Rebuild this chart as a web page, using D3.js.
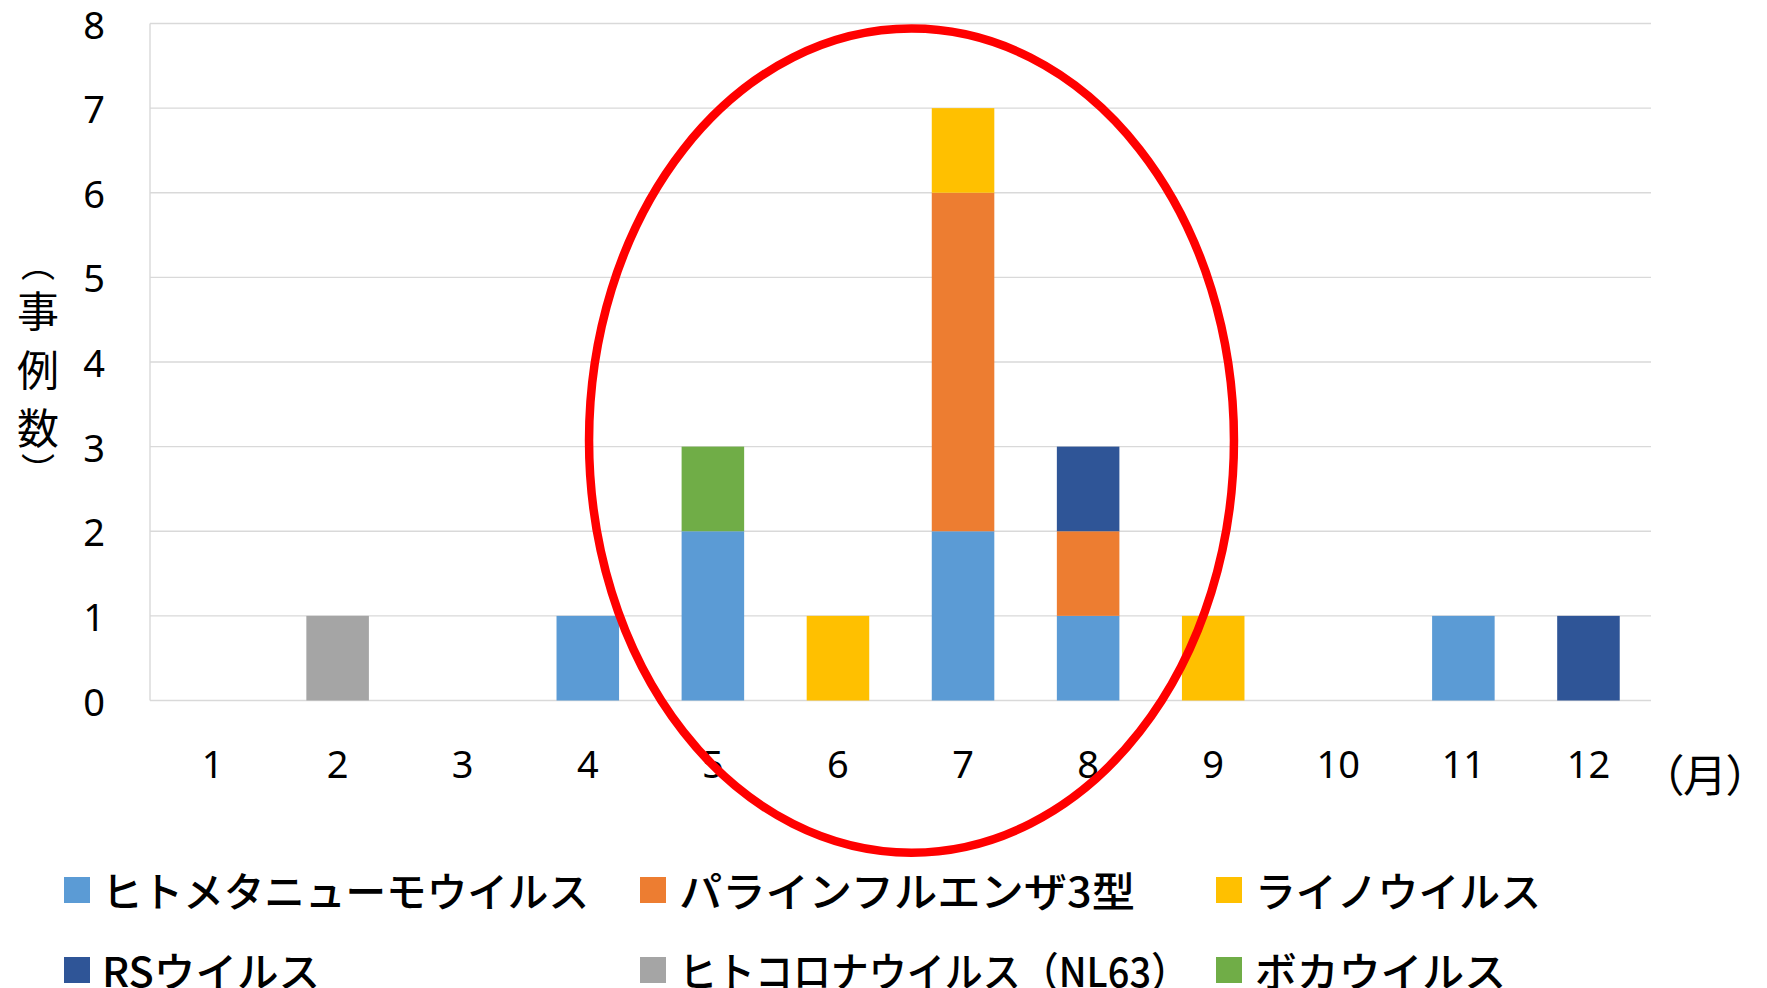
<!DOCTYPE html>
<html>
<head>
<meta charset="utf-8">
<script src="https://cdn.jsdelivr.net/npm/d3@7"></script>
<style>
  html, body { margin: 0; padding: 0; background: #fff; }
  svg { display: block; }
  .palt { font-feature-settings: "palt" 1; }
</style>
</head>
<body>
<svg id="chart" width="1767" height="988"></svg>
<script>
// ---- data ----
const months = ["1","2","3","4","5","6","7","8","9","10","11","12"];
const seriesNames = ["ヒトメタニューモウイルス", "パラインフルエンザ3型", "ライノウイルス", "RSウイルス", "ヒトコロナウイルス（NL63）", "ボカウイルス"];
const seriesColors = ["#5B9BD5", "#ED7D31", "#FFC000", "#2F5597", "#A5A5A5", "#70AD47"];
const hmpv   = [0,0,0,1,2,0,2,1,0,0,1,0];
const para3  = [0,0,0,0,0,0,4,1,0,0,0,0];
const rhino  = [0,0,0,0,0,1,1,0,1,0,0,0];
const rsv    = [0,0,0,0,0,0,0,1,0,0,0,1];
const corona = [0,1,0,0,0,0,0,0,0,0,0,0];
const boca   = [0,0,0,0,1,0,0,0,0,0,0,0];
const yTicks = [0,1,2,3,4,5,6,7,8];
const yTitle = ["︵","事","例","数","︶"];
const xUnit = "（月）";
// highlight annotation (in data units: month position, count)
const highlight = { month: 6.588, value: 3.071, rMonths: 2.578, rValue: 4.869 };

const seriesValues = [hmpv, para3, rhino, rsv, corona, boca];

// ---- layout ----
const svg = d3.select("#chart");
const plotL = 150, plotR = 1651, plotT = 23.5, plotB = 700.5;

const x = d3.scaleBand().domain(months).range([plotL, plotR]).paddingInner(0.5).paddingOuter(0.25);
const y = d3.scaleLinear().domain([0, 8]).range([plotB, plotT]);
const xPos = d3.scaleLinear().domain([1, 12]).range([x("1") + x.bandwidth()/2, x("12") + x.bandwidth()/2]);

const table = months.map((m, i) => {
  const o = { month: m };
  seriesNames.forEach((s, k) => o[s] = seriesValues[k][i]);
  return o;
});
const stack = d3.stack().keys(seriesNames)(table);

// gridlines
svg.append("g").selectAll("line").data(yTicks).join("line")
  .attr("x1", plotL).attr("x2", plotR)
  .attr("y1", d => y(d)).attr("y2", d => y(d))
  .attr("stroke", "#D9D9D9").attr("stroke-width", 1.4);
// left axis line
svg.append("line").attr("x1", plotL).attr("x2", plotL).attr("y1", y(8)).attr("y2", y(0))
  .attr("stroke", "#D9D9D9").attr("stroke-width", 1.4);

// bars
svg.append("g").selectAll("g").data(stack).join("g")
  .attr("fill", (d, i) => seriesColors[i])
  .selectAll("rect").data(d => d.filter(p => p[1] > p[0])).join("rect")
  .attr("x", d => x(d.data.month))
  .attr("width", x.bandwidth())
  .attr("y", d => y(d[1]))
  .attr("height", d => y(d[0]) - y(d[1]));

// y tick labels
svg.append("g").selectAll("text").data(yTicks).join("text")
  .attr("x", 105).attr("y", d => y(d))
  .attr("text-anchor", "end").attr("dominant-baseline", "central")
  .attr("font-family", "'Noto Sans', sans-serif").attr("font-size", 38).attr("fill", "#000")
  .text(d => d);

// x tick labels
svg.append("g").selectAll("text").data(months).join("text")
  .attr("x", d => x(d) + x.bandwidth()/2).attr("y", 763)
  .attr("text-anchor", "middle").attr("dominant-baseline", "central")
  .attr("font-family", "'Noto Sans', sans-serif").attr("font-size", 38).attr("fill", "#000")
  .text(d => d);

// x unit
svg.append("text").attr("class", "palt").attr("x", 1705).attr("y", 773)
  .attr("text-anchor", "middle").attr("dominant-baseline", "central")
  .attr("font-family", "'Noto Sans CJK JP', sans-serif").attr("font-size", 44).attr("fill", "#000")
  .text(xUnit);

// y title (stacked vertical)
const yTitleY = [262, 308, 367, 425, 468];
const yTitleSize = [34, 42, 42, 42, 34];
svg.append("g").selectAll("text").data(yTitle).join("text")
  .attr("x", 38).attr("y", (d, i) => yTitleY[i])
  .attr("text-anchor", "middle").attr("dominant-baseline", "central")
  .attr("font-family", "'Noto Sans CJK JP', sans-serif").attr("font-size", (d, i) => yTitleSize[i]).attr("fill", "#000")
  .text(d => d);

// highlight ellipse
svg.append("ellipse")
  .attr("cx", xPos(highlight.month))
  .attr("cy", y(highlight.value))
  .attr("rx", xPos(highlight.month + highlight.rMonths) - xPos(highlight.month))
  .attr("ry", y(0) - y(highlight.rValue))
  .attr("fill", "none").attr("stroke", "#FF0000").attr("stroke-width", 8.5);

// legend
const legendPos = [
  { mx: 64, tx: 102, w: 487, cy: 889 },
  { mx: 640, tx: 679, w: 456, cy: 889 },
  { mx: 1216, tx: 1255, w: 286, cy: 889 },
  { mx: 64, tx: 102, w: 218, cy: 969 },
  { mx: 640, tx: 679, w: 510, cy: 969 },
  { mx: 1216, tx: 1255, w: 251, cy: 969 }
];
const lg = svg.append("g").selectAll("g").data(seriesNames).join("g");
lg.append("rect")
  .attr("x", (d, i) => legendPos[i].mx).attr("y", (d, i) => legendPos[i].cy - 12)
  .attr("width", 26).attr("height", 26)
  .attr("fill", (d, i) => seriesColors[i]);
lg.append("text")
  .attr("x", (d, i) => legendPos[i].tx).attr("y", (d, i) => legendPos[i].cy)
  .attr("dominant-baseline", "central")
  .attr("textLength", (d, i) => legendPos[i].w).attr("lengthAdjust", "spacingAndGlyphs")
  .attr("font-family", "'Noto Sans CJK JP', sans-serif").attr("font-weight", 500)
  .attr("font-size", 41).attr("fill", "#000")
  .text(d => d);
</script>
</body>
</html>
